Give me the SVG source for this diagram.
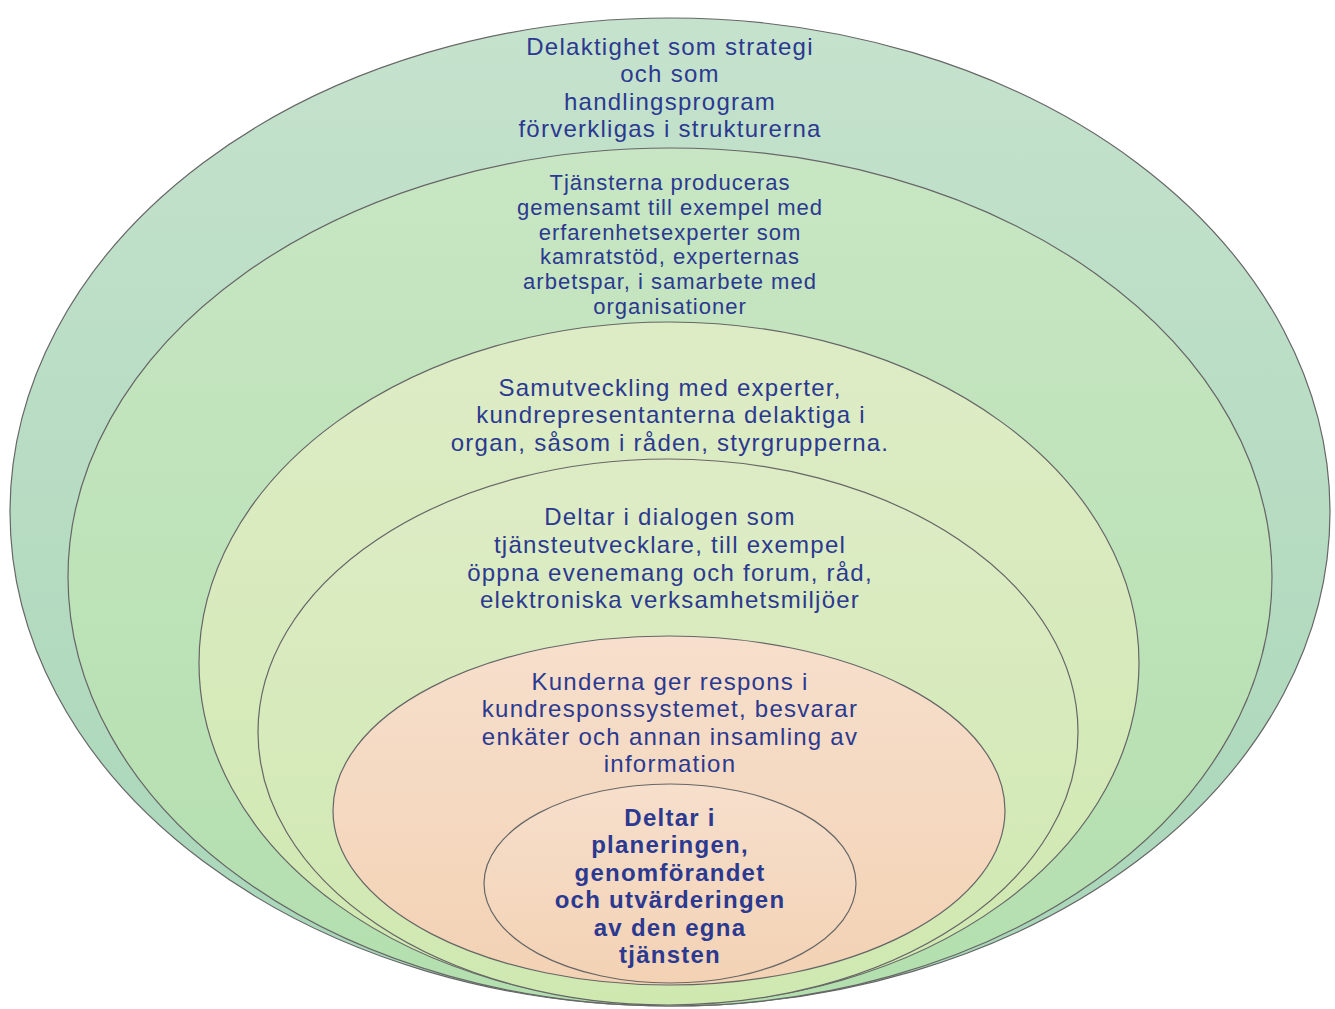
<svg xmlns="http://www.w3.org/2000/svg" width="1335" height="1009" viewBox="0 0 1335 1009">
<defs>
<linearGradient id="g1" x1="0" y1="0" x2="0" y2="1"><stop offset="0" stop-color="#c5e2cd"/><stop offset="1" stop-color="#a8d6b8"/></linearGradient>
<linearGradient id="g2" x1="0" y1="0" x2="0" y2="1"><stop offset="0" stop-color="#c8e6c3"/><stop offset="1" stop-color="#b3dfae"/></linearGradient>
<linearGradient id="g3" x1="0" y1="0" x2="0" y2="1"><stop offset="0" stop-color="#deecc6"/><stop offset="1" stop-color="#cfe8b0"/></linearGradient>
<linearGradient id="g5" x1="0" y1="0" x2="0" y2="1"><stop offset="0" stop-color="#f6dfcc"/><stop offset="1" stop-color="#f3d2b4"/></linearGradient>
</defs>
<style>
.e{stroke:#666;stroke-width:1.2}
.t{font-family:"Liberation Sans",Arial,sans-serif;font-size:24px;fill:#2b3990;text-anchor:middle;letter-spacing:1.25px}
.s{font-size:22px;letter-spacing:1px}
.b{font-weight:bold}
</style>
<rect width="1335" height="1009" fill="#fff"/>
<g id="level1">
<ellipse class="e" cx="670" cy="512" rx="660" ry="494" fill="url(#g1)"/>
<text class="t"><tspan x="670" y="55">Delaktighet som strategi</tspan><tspan x="670" y="82">och som</tspan><tspan x="670" y="110">handlingsprogram</tspan><tspan x="670" y="137">förverkligas i strukturerna</tspan></text>
</g>
<g id="level2">
<ellipse class="e" cx="670" cy="577" rx="602" ry="429" fill="url(#g2)"/>
<text class="t s"><tspan x="670" y="190">Tjänsterna produceras</tspan><tspan x="670" y="215">gemensamt till exempel med</tspan><tspan x="670" y="240">erfarenhetsexperter som</tspan><tspan x="670" y="264">kamratstöd, experternas</tspan><tspan x="670" y="289">arbetspar, i samarbete med</tspan><tspan x="670" y="314">organisationer</tspan></text>
</g>
<g id="level3">
<ellipse class="e" cx="669" cy="663" rx="470" ry="341" fill="url(#g3)"/>
<text class="t"><tspan x="670" y="396">Samutveckling med experter,</tspan><tspan x="671" y="423">kundrepresentanterna delaktiga i</tspan><tspan x="670" y="451">organ, såsom i råden, styrgrupperna.</tspan></text>
</g>
<g id="level4">
<ellipse class="e" cx="668" cy="732" rx="410" ry="273" fill="url(#g3)"/>
<text class="t"><tspan x="670" y="525">Deltar i dialogen som</tspan><tspan x="670" y="553">tjänsteutvecklare, till exempel</tspan><tspan x="670" y="581">öppna evenemang och forum, råd,</tspan><tspan x="670" y="608">elektroniska verksamhetsmiljöer</tspan></text>
</g>
<g id="level5">
<ellipse class="e" cx="669" cy="810.5" rx="336" ry="174.5" fill="url(#g5)"/>
<text class="t"><tspan x="670" y="690">Kunderna ger respons i</tspan><tspan x="670" y="717">kundresponssystemet, besvarar</tspan><tspan x="670" y="745">enkäter och annan insamling av</tspan><tspan x="670" y="772">information</tspan></text>
</g>
<g id="level6">
<ellipse class="e" cx="670" cy="883.5" rx="186" ry="99.5" fill="url(#g5)"/>
<text class="t b"><tspan x="670" y="826">Deltar i</tspan><tspan x="670" y="853">planeringen,</tspan><tspan x="670" y="881">genomförandet</tspan><tspan x="670" y="908">och utvärderingen</tspan><tspan x="670" y="936">av den egna</tspan><tspan x="670" y="963">tjänsten</tspan></text>
</g>
<g id="connectors"/>
</svg>
